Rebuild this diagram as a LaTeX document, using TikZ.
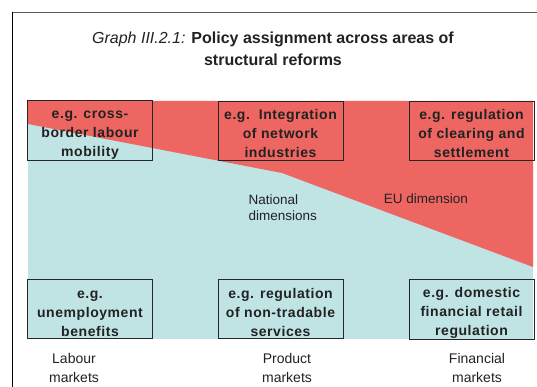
\documentclass[tikz,border=0pt]{standalone}
\usepackage{fontspec}
\setmainfont{Liberation Sans}
\usetikzlibrary{positioning}
\definecolor{eured}{HTML}{EE6661}
\definecolor{natblue}{HTML}{C0E3E4}
\definecolor{txt}{HTML}{222222}
\newcommand{\tstrut}{\rule{0pt}{17pt}}
\tikzset{
  box/.style={draw=black!85,line width=0.9pt,minimum width=125pt,minimum height=59pt,inner sep=1pt,align=center,text=txt,font=\fontsize{14}{19}\selectfont\bfseries\addfontfeature{LetterSpace=4}},
  dim/.style={font=\fontsize{13.5}{16}\selectfont,align=left,text=txt},
  mkt/.style={font=\fontsize{14}{19}\selectfont,align=center,text=txt},
}
\begin{document}
\begin{tikzpicture}[x=1pt,y=-1pt]
 \useasboundingbox (0,0) rectangle (537,387);
 % frame
 \draw[black!65,line width=1.6pt] (12.5,12.5) -- (537,12.5);
 \draw[black,line width=1pt] (12.5,12.5) -- (12.5,387);
 \node[align=center,font=\fontsize{16}{22}\selectfont,text=txt] (title) at (273,49)
   {\textit{Graph III.2.1:} \textbf{Policy assignment across areas of}\\ \textbf{structural reforms}};
 % areas
 \fill[natblue] (28,101) rectangle (533,339);
 \fill[eured] (28,101) -- (533,101) -- (533,267) -- (282,173) -- (28,124) -- cycle;
 \node[dim,anchor=west] (nat) at (245,208) {National\\dimensions};
 \node[dim] (eu) at (426,199) {EU dimension};
 % boxes
 \node[box] (lab-eu) at (90,130.5) {\tstrut e.g. cross-\\border labour\\mobility};
 \node[box] (prod-eu) at (280.5,130.5) {\tstrut e.g.\ \ Integration\\of network\\industries};
 \node[box] (fin-eu) at (471.5,130.5) {\tstrut e.g. regulation\\of clearing and\\settlement};
 \node[box] (lab-nat) at (90,309) {\tstrut e.g.\\unemployment\\benefits};
 \node[box] (prod-nat) at (280.5,309) {\tstrut e.g. regulation\\of non-tradable\\services};
 \node[box] (fin-nat) at (471.5,309) {\tstrut e.g. domestic\\financial retail\\regulation};
 % markets
 \node[mkt] (lab) at (74,367.5) {Labour\\markets};
 \node[mkt] (prod) at (287,367.5) {Product\\markets};
 \node[mkt] (fin) at (477,367.5) {Financial\\markets};
\end{tikzpicture}
\end{document}
